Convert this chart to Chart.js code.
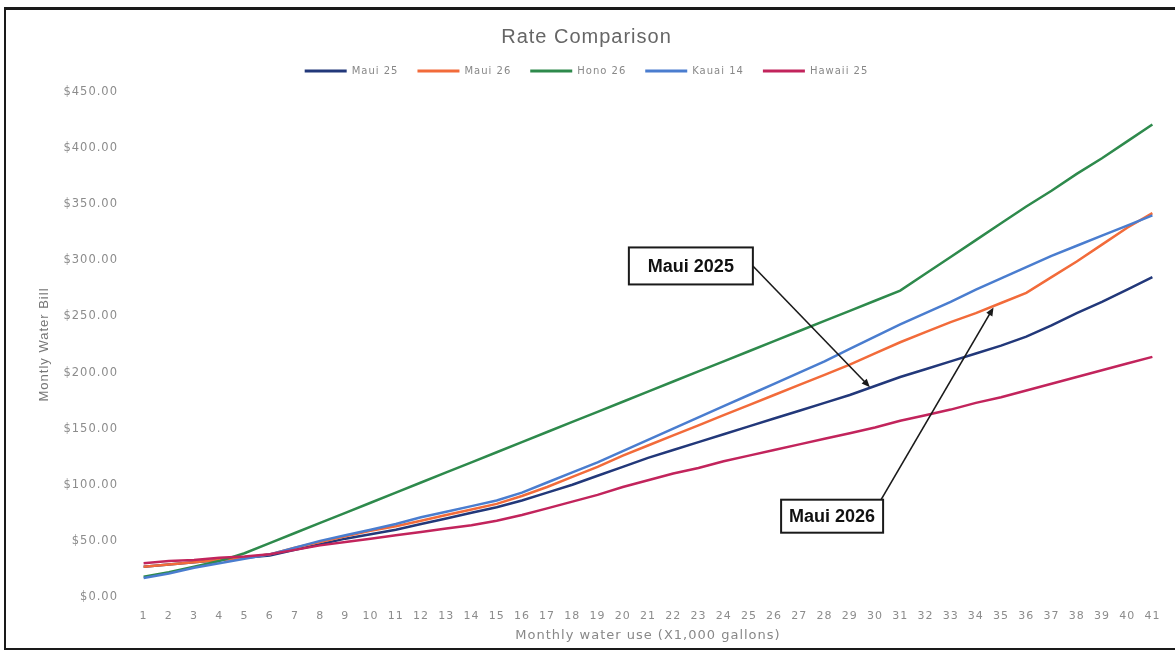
<!DOCTYPE html>
<html>
<head>
<meta charset="utf-8">
<title>Rate Comparison</title>
<script src="https://cdn.jsdelivr.net/npm/chart.js@4.4.1/dist/chart.umd.min.js"></script>
<style>
  body { margin: 0; background: #fff; overflow: hidden; }
  #frame {
    position: absolute; left: 4px; top: 7px;
    width: 1185px; height: 638px;
    border: 2px solid #1a1a1a; border-top-width: 3px;
  }
  #rateChart { position: absolute; left: 0; top: 0; }
</style>
</head>
<body>
<div id="frame"></div>
<canvas id="rateChart" width="1175" height="663"></canvas>
<script>
// monthly water use, thousands of gallons
const waterUse = ['1','2','3','4','5','6','7','8','9','10','11','12','13','14','15','16','17','18','19','20',
  '21','22','23','24','25','26','27','28','29','30','31','32','33','34','35','36','37','38','39','40','41'];

// monthly bill in dollars
const maui25 = [27,29,31,33,35,37,42,47,52,56,60,65,70,75,80,86,93,100,108,116,
  124,131,138,145,152,159,166,173,180,188,196,203,210,217,224,232,242,253,263,274,285];
const maui26 = [27,29,31,33,35,38,44,49,54,59,63,68,73,78,83,90,98,107,116,126,
  135,144,153,162,171,180,189,198,207,217,227,236,245,253,262,271,285,299,314,329,342];
const hono26 = [18,22,27,32,39,48,57,66,75,84,93,102,111,120,129,138,147,156,165,174,
  183,192,201,210,219,228,237,246,255,264,273,288,303,318,333,348,362,377,391,406,421];
const kauai14 = [17,21,26,30,34,38,44,50,55,60,65,71,76,81,86,93,102,111,120,130,
  140,150,160,170,180,190,200,210,221,232,243,253,263,274,284,294,304,313,322,331,340];
const hawaii25 = [30,32,33,35,36,38,42,46,49,52,55,58,61,64,68,73,79,85,91,98,
  104,110,115,121,126,131,136,141,146,151,157,162,167,173,178,184,190,196,202,208,214];

const yTicks = [0, 50, 100, 150, 200, 250, 300, 350, 400, 450];

// callout boxes: box centre and arrow tip in data units (category index, dollars)
const callouts = [
  { text: 'Maui 2025', box: [21.7, 295], tip: [28.8, 187], from: 'right', w: 124, h: 37 },
  { text: 'Maui 2026', box: [27.3, 72], tip: [33.7, 258], from: 'topright', w: 102, h: 33 }
];

function drawArrow(ctx, sx, sy, tx, ty) {
  const ang = Math.atan2(ty - sy, tx - sx);
  const head = 9;
  ctx.beginPath();
  ctx.moveTo(sx, sy);
  ctx.lineTo(tx - Math.cos(ang) * head * 0.8, ty - Math.sin(ang) * head * 0.8);
  ctx.stroke();
  ctx.beginPath();
  ctx.moveTo(tx, ty);
  ctx.lineTo(tx - head * Math.cos(ang - 0.4), ty - head * Math.sin(ang - 0.4));
  ctx.lineTo(tx - head * Math.cos(ang + 0.4), ty - head * Math.sin(ang + 0.4));
  ctx.closePath();
  ctx.fill();
}

const calloutPlugin = {
  id: 'callouts',
  afterDatasetsDraw(chart) {
    const { ctx, scales: { x, y } } = chart;
    ctx.save();
    ctx.letterSpacing = '0px';
    callouts.forEach(c => {
      const cx = x.getPixelForValue(c.box[0]);
      const cy = y.getPixelForValue(c.box[1]);
      const left = cx - c.w / 2, top = cy - c.h / 2;
      const sx = c.from === 'right' ? left + c.w : left + c.w - 2;
      const sy = c.from === 'right' ? cy : top;

      ctx.strokeStyle = '#1a1a1a';
      ctx.fillStyle = '#1a1a1a';
      ctx.lineWidth = 1.6;
      drawArrow(ctx, sx, sy, x.getPixelForValue(c.tip[0]), y.getPixelForValue(c.tip[1]));

      ctx.fillStyle = '#fff';
      ctx.fillRect(left, top, c.w, c.h);
      ctx.lineWidth = 2;
      ctx.strokeRect(left, top, c.w, c.h);
      ctx.fillStyle = '#111';
      ctx.font = 'bold 18px "Liberation Sans", Arial, sans-serif';
      ctx.textAlign = 'center';
      ctx.textBaseline = 'middle';
      ctx.fillText(c.text, cx, cy + 1);
    });
    ctx.restore();
  }
};

// small empty box between the legend and the plot, to push the plot down a bit
const spacerPlugin = {
  id: 'spacer',
  beforeInit(chart) {
    Chart.layouts.addBox(chart, {
      position: 'top',
      weight: 0,
      fullSize: true,
      options: {},
      isHorizontal: () => true,
      update(maxWidth) { this.width = maxWidth; this.height = 6; },
      draw() {}
    });
  }
};

// the original uses a wide, loosely spaced font for its labels
const spacingPlugin = {
  id: 'spacing',
  beforeLayout(chart) { chart.ctx.letterSpacing = '1px'; },
  beforeDraw(chart) { chart.ctx.letterSpacing = '1px'; }
};

function series(label, data, color, order) {
  return {
    label: label,
    data: data,
    borderColor: color,
    backgroundColor: color,
    borderWidth: 2.5,
    pointRadius: 0,
    tension: 0,
    order: order
  };
}

const ctx = document.getElementById('rateChart').getContext('2d');

new Chart(ctx, {
  type: 'line',
  data: {
    labels: waterUse,
    datasets: [
      series('Maui 25', maui25, '#22387a', 5),
      series('Maui 26', maui26, '#f26b3a', 4),
      series('Hono 26', hono26, '#2e8a4c', 3),
      series('Kauai 14', kauai14, '#4a7dcf', 2),
      series('Hawaii 25', hawaii25, '#c2245c', 1)
    ]
  },
  options: {
    responsive: false,
    animation: false,
    layout: { padding: { left: 8, right: 10, top: 10, bottom: 13 } },
    plugins: {
      tooltip: { enabled: false },
      title: {
        display: true,
        text: 'Rate Comparison',
        color: '#666',
        font: { family: '"Liberation Sans", Arial, sans-serif', size: 20, weight: 'normal' },
        padding: { top: 15, bottom: -2 }
      },
      legend: {
        display: true,
        labels: {
          boxWidth: 42,
          boxHeight: 3,
          padding: 19,
          color: '#888',
          font: { family: '"DejaVu Sans", sans-serif', size: 10 },
          sort: (a, b) => a.datasetIndex - b.datasetIndex,
          generateLabels: chart => {
            const items = Chart.defaults.plugins.legend.labels.generateLabels(chart);
            items.forEach(it => { it.lineWidth = 0; });
            return items;
          }
        }
      }
    },
    scales: {
      x: {
        offset: true,
        grid: { display: false, drawTicks: false },
        border: { display: false },
        ticks: {
          color: '#8c8c8c',
          padding: 13,
          maxRotation: 0,
          autoSkip: false,
          font: { family: '"DejaVu Sans", sans-serif', size: 11 }
        },
        title: {
          display: true,
          text: 'Monthly water use (X1,000 gallons)',
          color: '#888',
          font: { family: '"DejaVu Sans", sans-serif', size: 13 },
          padding: { top: 0, bottom: 7 }
        },
        afterFit: scale => { scale.height = 53; }
      },
      y: {
        min: 0,
        max: 450,
        grid: { display: false, drawTicks: false },
        border: { display: false },
        afterBuildTicks: scale => { scale.ticks = yTicks.map(v => ({ value: v })); },
        ticks: {
          color: '#8c8c8c',
          padding: 13,
          font: { family: '"DejaVu Sans", sans-serif', size: 11.5 },
          callback: v => '$' + Number(v).toFixed(2)
        },
        title: {
          display: true,
          text: 'Montly Water Bill',
          color: '#777',
          font: { family: '"Liberation Sans", Arial, sans-serif', size: 13 },
          padding: { top: 29, bottom: 0 }
        },
        afterFit: scale => { scale.width = 123; }
      }
    }
  },
  plugins: [spacerPlugin, spacingPlugin, calloutPlugin]
});
</script>
</body>
</html>
